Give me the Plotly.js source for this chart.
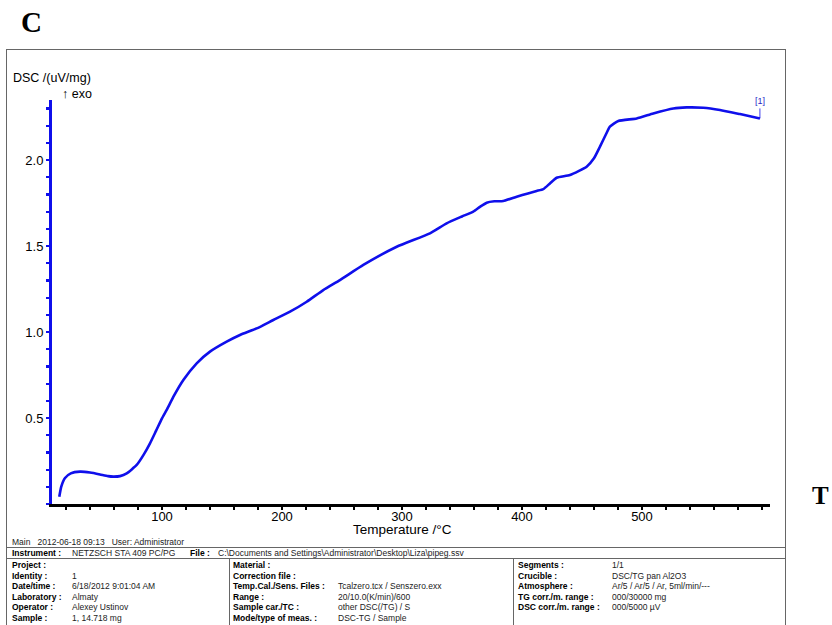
<!DOCTYPE html>
<html>
<head>
<meta charset="utf-8">
<script src="https://cdn.plot.ly/plotly-3.0.1.min.js"></script>
<style>
  html, body { margin:0; padding:0; background:#fff; }
  #wrap { position:relative; width:832px; height:625px; overflow:hidden; }
  #chart { position:absolute; left:0; top:0; width:832px; height:625px; }
  .ov { position:absolute; pointer-events:none; }
  .t { position:absolute; font-family:"Liberation Sans", Arial, sans-serif; font-size:8.5px; line-height:10px; color:#222; white-space:pre; }
  .b { font-weight:bold; color:#000; }
  .ln { position:absolute; background:#666; }
</style>
</head>
<body>
<div id="wrap">
  <div id="chart"></div>
</div>
<script>
// ---- data ----
const temperature = [14.4, 16, 19.2, 24, 31.7, 40, 48.3, 55, 59.4, 65, 70.6, 78.9, 85, 90, 95, 100, 103.9, 110, 117.8, 128.9, 140, 153.9, 165, 178.9, 192.8, 206.7, 220.6, 234.4, 248.3, 267.8, 295.6, 323.3, 337.2, 350, 359.4, 365, 370.6, 377, 384.4, 395.6, 405, 412.2, 417.8, 423.3, 428.9, 440, 453.9, 460, 465, 470, 473.3, 480.3, 495.6, 509.4, 526.1, 537.2, 551.1, 565, 581.7, 598.3];
const dsc = [0.042, 0.10, 0.151, 0.178, 0.188, 0.183, 0.172, 0.162, 0.159, 0.162, 0.178, 0.227, 0.29, 0.353, 0.425, 0.498, 0.547, 0.63, 0.721, 0.818, 0.886, 0.944, 0.983, 1.021, 1.07, 1.118, 1.176, 1.244, 1.302, 1.39, 1.496, 1.574, 1.632, 1.672, 1.70, 1.728, 1.752, 1.76, 1.762, 1.787, 1.806, 1.82, 1.831, 1.864, 1.897, 1.913, 1.961, 2.01, 2.078, 2.15, 2.194, 2.227, 2.242, 2.271, 2.30, 2.306, 2.304, 2.291, 2.267, 2.242];
const xTickVals = [100, 200, 300, 400, 500];
const xTickText = ['100', '200', '300', '400', '500'];
const yTickVals = [0.5, 1.0, 1.5, 2.0];
const yTickText = ['0.5', '1.0', '1.5', '2.0'];
const curveLabel = '[1]';

// info table texts
const infoHeader = 'Main   2012-06-18 09:13   User: Administrator';
const instrumentRow = [['Instrument :', 'NETZSCH STA 409 PC/PG'], ['File :', 'C:\\Documents and Settings\\Administrator\\Desktop\\Liza\\pipeg.ssv']];
const col1 = [['Project :', ''], ['Identity :', '1'], ['Date/time :', '6/18/2012 9:01:04 AM'], ['Laboratory :', 'Almaty'], ['Operator :', 'Alexey Ustinov'], ['Sample :', '1, 14.718 mg']];
const col2 = [['Material :', ''], ['Correction file :', ''], ['Temp.Cal./Sens. Files :', 'Tcalzero.tcx / Senszero.exx'], ['Range :', '20/10.0(K/min)/600'], ['Sample car./TC :', 'other DSC(/TG) / S'], ['Mode/type of meas. :', 'DSC-TG / Sample']];
const col3 = [['Segments :', '1/1'], ['Crucible :', 'DSC/TG pan Al2O3'], ['Atmosphere :', 'Ar/5 / Ar/5 / Ar, 5ml/min/---'], ['TG corr./m. range :', '000/30000 mg'], ['DSC corr./m. range :', '000/5000 \u00b5V']];

const FONT = '"Liberation Sans", Arial, sans-serif';
const blue = 'rgb(15,15,235)';

const trace = {
  x: temperature, y: dsc, type: 'scatter', mode: 'lines',
  line: {color: blue, width: 2.6, shape: 'spline', smoothing: 0.5},
  hoverinfo: 'skip', showlegend: false
};

const layout = {
  width: 832, height: 625,
  margin: {l: 52, r: 62, t: 100, b: 121, pad: 0},
  paper_bgcolor: 'rgba(0,0,0,0)', plot_bgcolor: 'rgba(0,0,0,0)',
  font: {family: FONT, size: 13, color: '#000'},
  showlegend: false,
  xaxis: {
    range: [8.33, 606.7], showgrid: false, zeroline: false,
    showline: true, linecolor: '#000', linewidth: 3,
    tickmode: 'array', tickvals: xTickVals, ticktext: xTickText,
    ticks: 'outside', ticklen: 3, tickwidth: 2, tickcolor: '#000',
    ticklabelstandoff: -5,
    minor: {tickmode: 'linear', tick0: 0, dtick: 20, ticks: 'outside', ticklen: 3, tickwidth: 2, tickcolor: '#000'},
    tickfont: {family: FONT, size: 13, color: '#000'}
  },
  yaxis: {
    range: [0, 2.349], showgrid: false, zeroline: false,
    showline: true, linecolor: blue, linewidth: 3,
    tickmode: 'array', tickvals: yTickVals, ticktext: yTickText,
    ticks: 'outside', ticklen: 3, tickwidth: 2.2, tickcolor: blue,
    minor: {tickmode: 'linear', tick0: 0, dtick: 0.1, ticks: 'outside', ticklen: 3, tickwidth: 2.2, tickcolor: blue},
    tickfont: {family: FONT, size: 13, color: '#000'}
  },
  annotations: [
    {xref: 'paper', yref: 'paper', x: -0.0571, y: 1.0545, xanchor: 'left', yanchor: 'middle', showarrow: false,
     text: 'DSC /(uV/mg)', font: {family: FONT, size: 12.5, color: '#000'}},
    {xref: 'paper', yref: 'paper', x: 0.0111, y: 1.0149, xanchor: 'left', yanchor: 'middle', showarrow: false,
     text: '\u2191 exo', font: {family: FONT, size: 12.5, color: '#000'}},
    {xref: 'paper', yref: 'paper', x: 0.4875, y: -0.0619, xanchor: 'center', yanchor: 'middle', showarrow: false,
     text: 'Temperature /\u00b0C', font: {family: FONT, size: 13.5, color: '#000'}},
    {xref: 'x', yref: 'y', x: temperature[temperature.length - 1], y: dsc[dsc.length - 1],
     text: curveLabel, showarrow: true, arrowhead: 0, arrowwidth: 0.8, arrowcolor: blue, ax: 0, ay: -10,
     yanchor: 'bottom', font: {family: FONT, size: 9, color: 'rgb(40,40,200)'}}
  ]
};

Plotly.newPlot('chart', [trace], layout, {staticPlot: true, displayModeBar: false}).then(() => {
  const wrap = document.getElementById('wrap');
  function add(html) { wrap.insertAdjacentHTML('beforeend', html); }
  function line(x, y, w, h) { add(`<div class="ov ln" style="left:${x}px;top:${y}px;width:${w}px;height:${h}px"></div>`); }
  function txt(x, yc, s, cls) { add(`<div class="ov t ${cls || ''}" style="left:${x}px;top:${yc - 5}px">${s}</div>`); }
  function esc(s) { return s.replace(/&/g, '&amp;').replace(/</g, '&lt;'); }

  // big letters
  add(`<div class="ov" style="left:21px;top:6px;font-family:'Liberation Serif','Times New Roman',serif;font-weight:bold;font-size:29px;line-height:32px;color:#000">C</div>`);
  add(`<div class="ov" style="left:812px;top:482px;font-family:'Liberation Serif','Times New Roman',serif;font-weight:bold;font-size:25px;line-height:28px;color:#000">T</div>`);

  // frame
  line(6, 49, 780, 1);
  line(6, 49, 1, 580);
  line(785, 49, 1, 580);
  line(6, 547, 780, 1);
  line(6, 558, 780, 1);
  line(229, 558, 1, 70);
  line(513, 558, 1, 70);

  // table
  txt(12, 542, esc(infoHeader), '');
  txt(12, 552.5, esc(instrumentRow[0][0]), 'b');
  txt(72, 552.5, esc(instrumentRow[0][1]), '');
  txt(190, 552.5, esc(instrumentRow[1][0]), 'b');
  txt(218, 552.5, esc(instrumentRow[1][1]), '');
  const rowY = [565, 575.5, 586, 596.5, 607, 617.5];
  col1.forEach((r, i) => { txt(12, rowY[i], esc(r[0]), 'b'); txt(72, rowY[i], esc(r[1]), ''); });
  col2.forEach((r, i) => { txt(233, rowY[i], esc(r[0]), 'b'); txt(338, rowY[i], esc(r[1]), ''); });
  col3.forEach((r, i) => { txt(518, rowY[i], esc(r[0]), 'b'); txt(612, rowY[i], esc(r[1]), ''); });
});
</script>
</body>
</html>
